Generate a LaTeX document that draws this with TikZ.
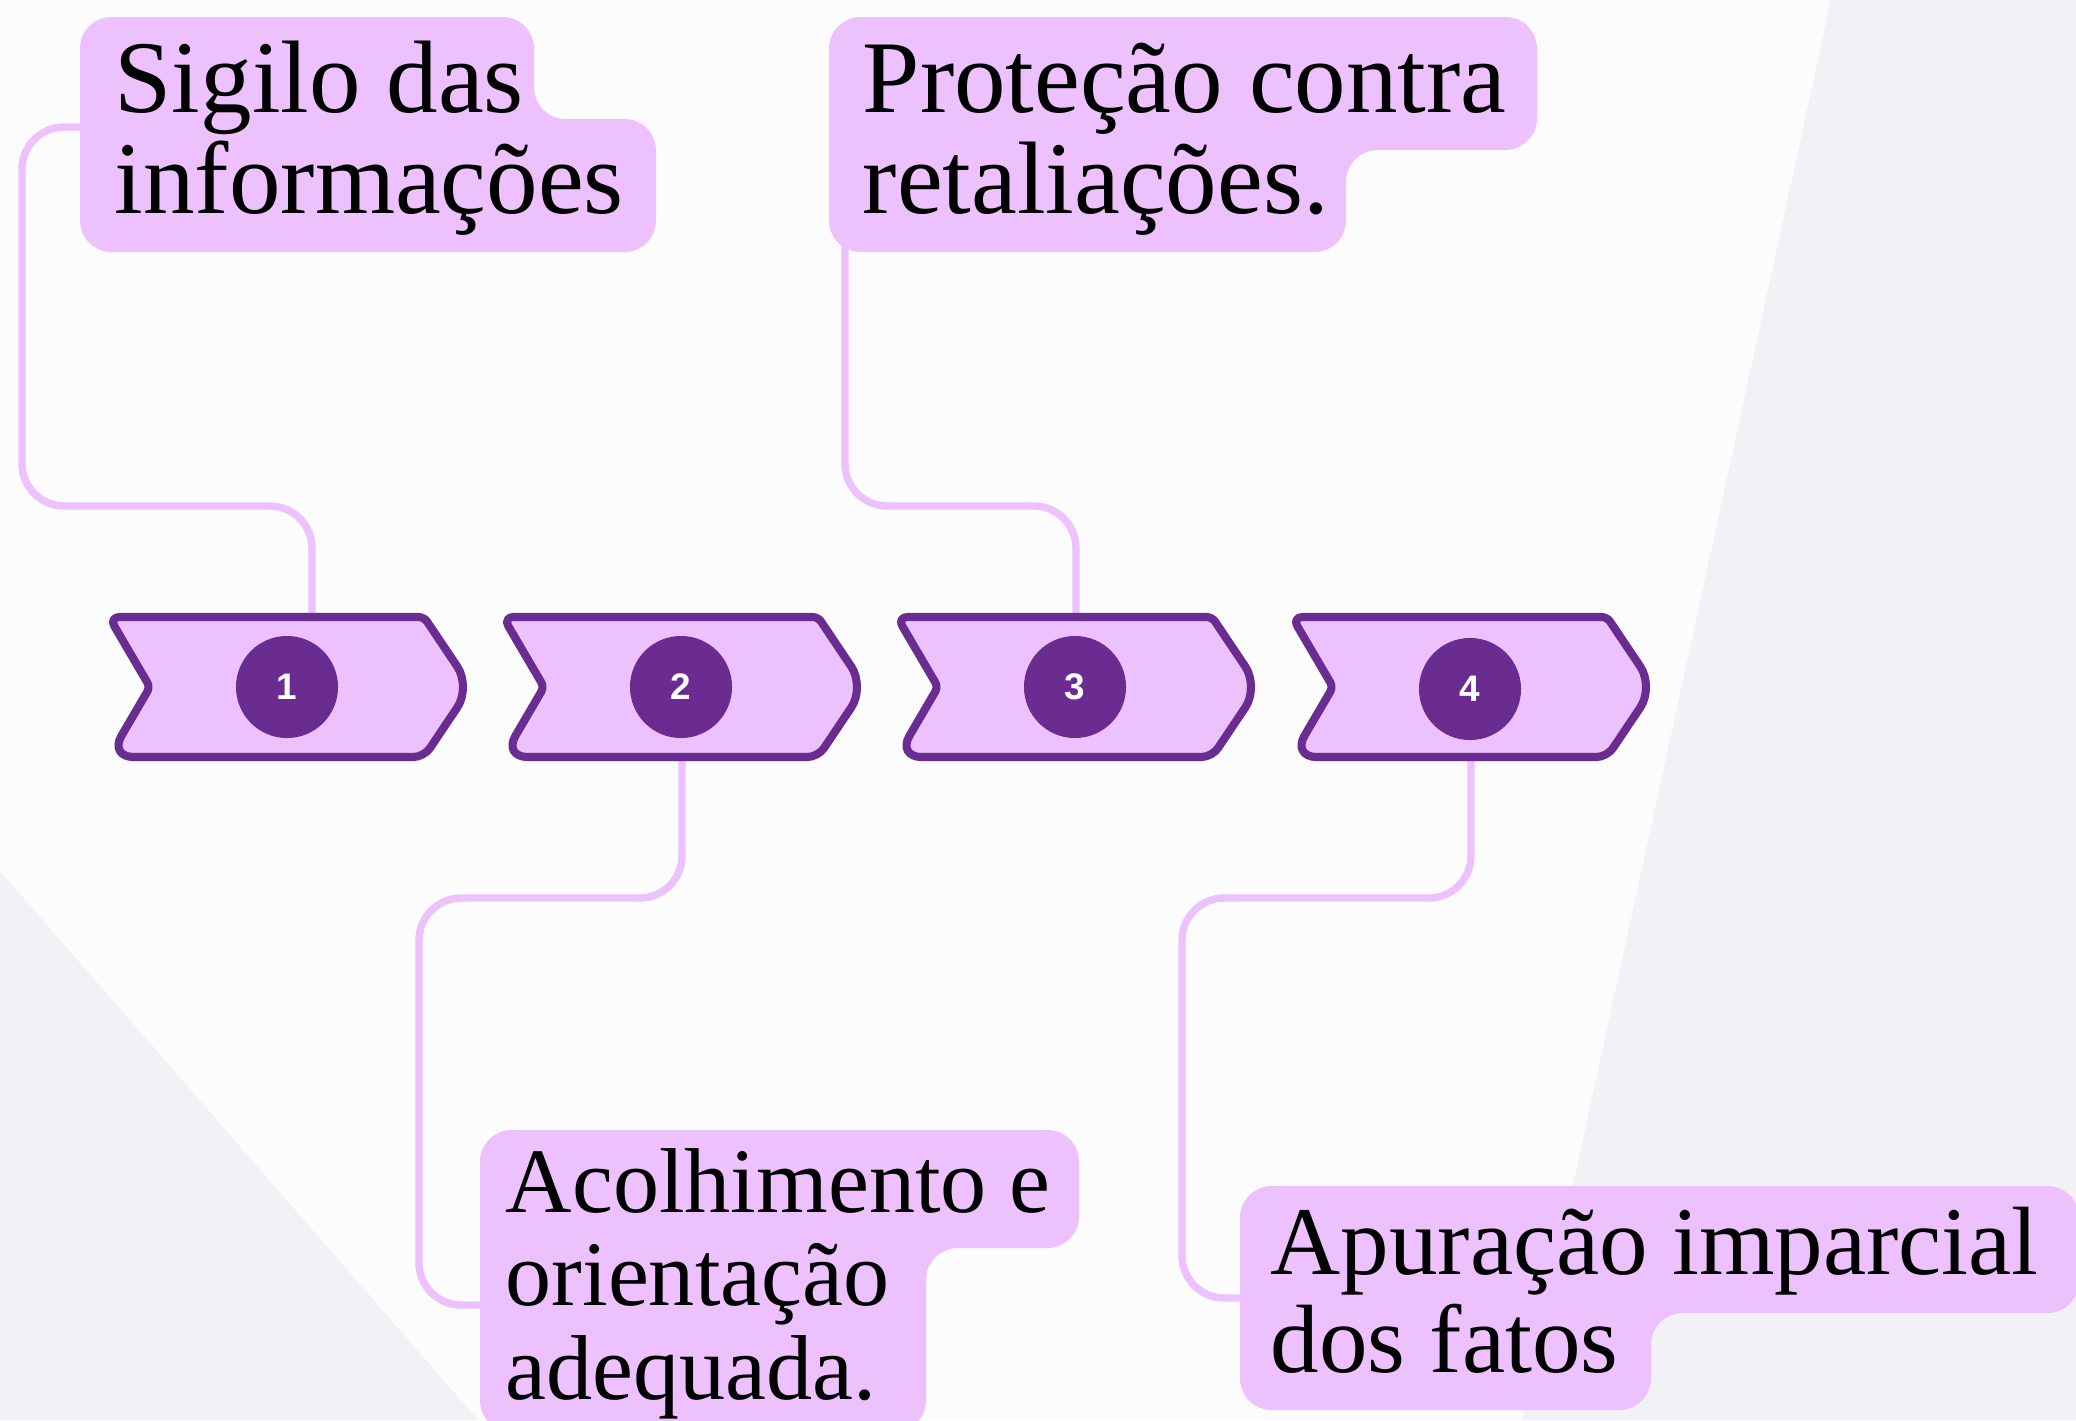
\documentclass[tikz,border=0pt]{standalone}
\usepackage{fontspec}
\setmainfont{Liberation Serif}
\newfontfamily\numfont{Liberation Sans}
\definecolor{bgc}{HTML}{FCFCFC}
\definecolor{grayc}{HTML}{F2F1F6}
\definecolor{lilac}{HTML}{ECC1FD}
\definecolor{plum}{HTML}{6A2C91}
\tikzset{
  chevstyle/.style={draw=plum, fill=lilac, line width=2.3pt, line join=round},
  chevron/.pic={
    \draw[chevstyle] (-1,-70) [rounded corners=1.5pt] -- (314,-70) [rounded corners=7pt] -- (361,0) [rounded corners=3pt] -- (314,70) [rounded corners=7pt] -- (-1,70) [rounded corners=1.5pt] -- (40,0) [rounded corners=3pt] -- cycle;
  },
  circ/.style={circle, fill=plum, minimum size=1.02cm, inner sep=0pt, text=white, font=\numfont\bfseries\fontsize{10.5}{12}\selectfont},
  conn/.style={draw=lilac, line width=2.1pt, rounded corners=12pt},
  boxshape/.style={fill=lilac, rounded corners=9pt},
  txtA/.style={anchor=base west, inner sep=0pt, align=left, font=\fontsize{29.3}{28.7}\selectfont},
  txtB/.style={anchor=base west, inner sep=0pt, align=left, font=\fontsize{26.2}{26.5}\selectfont},
  txtC/.style={anchor=base west, inner sep=0pt, align=left, font=\fontsize{27.6}{27.6}\selectfont},
}
\begin{document}
\begin{tikzpicture}[x=0.01cm, y=-0.01cm]
\useasboundingbox (0,0) rectangle (2076,1420);
\clip (0,0) rectangle (2076,1420);
% background
\fill[bgc] (0,0) rectangle (2076,1420);
\fill[grayc] (1831,0) -- (2076,0) -- (2076,1420) -- (1522,1420) -- cycle;
\fill[grayc] (0,871) -- (478,1420) -- (0,1420) -- cycle;

% anchor coordinates
\coordinate (k1) at (312,615);
\coordinate (k2) at (682,758);
\coordinate (k3) at (1076,615);
\coordinate (k4) at (1471,758);
\coordinate (b1) at (86,127);
\coordinate (b2) at (845,246);
\coordinate (b3) at (486,1305);
\coordinate (b4) at (1246,1298);

% connectors
\draw[conn] (k1) -- (312,506) -- (22,506) -- (22,127) -- (b1);
\draw[conn] (k2) -- (682,898) -- (419,898) -- (419,1305) -- (b3);
\draw[conn] (k3) -- (1076,506) -- (845,506) -- (b2);
\draw[conn] (k4) -- (1471,898) -- (1182,898) -- (1182,1298) -- (b4);

% text boxes
\fill[boxshape] (80,17) -- (534,17) -- (534,119) -- (656,119) -- (656,252) -- (80,252) -- cycle;
\fill[boxshape] (829,17) -- (1537,17) -- (1537,150) -- (1346,150) -- (1346,252) -- (829,252) -- cycle;
\fill[boxshape] (480,1130) -- (1079,1130) -- (1079,1248) -- (926,1248) -- (926,1432) -- (480,1432) -- cycle;
\fill[boxshape] (1240,1186) -- (2079,1186) -- (2079,1313) -- (1651,1313) -- (1651,1410) -- (1240,1410) -- cycle;

% texts (anchor = baseline of last line)
\node[txtA] (t1) at (114,213) {Sigilo das\\informações};
\node[txtA] (t2) at (862,213) {Proteção contra\\retaliações.};
\node[txtB] (t3) at (505,1399) {Acolhimento e\\orientação\\adequada.};
\node[txtC] (t4) at (1270,1372) {Apuração imparcial\\dos fatos};

% chevrons
\pic at (110,687) {chevron};
\pic at (504,687) {chevron};
\pic at (898,687) {chevron};
\pic at (1293,687) {chevron};

\node[circ] (c1) at (287,687) {1};
\node[circ] (c2) at (681,687) {2};
\node[circ] (c3) at (1075,687) {3};
\node[circ] (c4) at (1470,689) {4};
\end{tikzpicture}
\end{document}
